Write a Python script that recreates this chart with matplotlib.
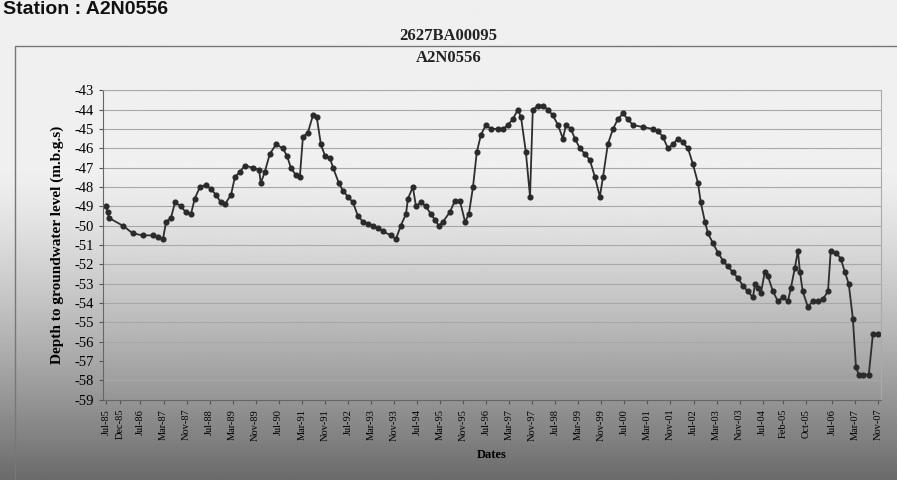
import numpy as np
import matplotlib.pyplot as plt
from matplotlib.patches import Rectangle

# water level record (decimal year, depth in m below ground surface)
years = [
    1985.50, 1985.55, 1985.59, 1985.99, 1986.28, 1986.57, 1986.86, 1987.00, 1987.15, 1987.24,
    1987.38, 1987.50, 1987.67, 1987.81, 1987.96, 1988.07, 1988.22, 1988.39, 1988.54, 1988.68,
    1988.83, 1988.94, 1989.12, 1989.23, 1989.38, 1989.52, 1989.75, 1989.93, 1989.98, 1990.10,
    1990.24, 1990.42, 1990.62, 1990.74, 1990.85, 1991.00, 1991.11, 1991.20, 1991.34, 1991.49,
    1991.60, 1991.72, 1991.84, 1991.98, 1992.07, 1992.24, 1992.36, 1992.50, 1992.65, 1992.79,
    1992.94, 1993.08, 1993.22, 1993.37, 1993.51, 1993.75, 1993.89, 1994.03, 1994.18, 1994.24,
    1994.38, 1994.47, 1994.61, 1994.76, 1994.90, 1995.02, 1995.13, 1995.25, 1995.45, 1995.60,
    1995.74, 1995.89, 1996.00, 1996.12, 1996.23, 1996.35, 1996.49, 1996.64, 1996.84, 1996.99,
    1997.13, 1997.27, 1997.42, 1997.51, 1997.65, 1997.77, 1997.85, 1998.00, 1998.14, 1998.29,
    1998.43, 1998.58, 1998.72, 1998.81, 1998.95, 1999.07, 1999.21, 1999.36, 1999.50, 1999.65,
    1999.79, 1999.88, 2000.02, 2000.17, 2000.31, 2000.46, 2000.60, 2000.75, 2001.04, 2001.32,
    2001.47, 2001.61, 2001.76, 2001.90, 2002.05, 2002.19, 2002.34, 2002.48, 2002.63, 2002.71,
    2002.83, 2002.92, 2003.06, 2003.21, 2003.35, 2003.49, 2003.64, 2003.78, 2003.93, 2004.07,
    2004.22, 2004.28, 2004.36, 2004.45, 2004.56, 2004.65, 2004.80, 2004.94, 2005.09, 2005.23,
    2005.32, 2005.43, 2005.52, 2005.58, 2005.66, 2005.81, 2005.95, 2006.10, 2006.24, 2006.39,
    2006.47, 2006.62, 2006.76, 2006.88, 2006.99, 2007.11, 2007.20, 2007.28, 2007.40, 2007.57,
    2007.69, 2007.83,
]
depth = [
    -49.0, -49.3, -49.6, -50.0, -50.4, -50.5, -50.5, -50.6, -50.7, -49.8,
    -49.6, -48.8, -49.0, -49.3, -49.4, -48.6, -48.0, -47.9, -48.1, -48.4,
    -48.8, -48.9, -48.4, -47.5, -47.2, -46.9, -47.0, -47.1, -47.8, -47.2,
    -46.3, -45.8, -46.0, -46.4, -47.0, -47.4, -47.5, -45.4, -45.2, -44.3,
    -44.4, -45.8, -46.4, -46.5, -47.0, -47.8, -48.2, -48.5, -48.8, -49.5,
    -49.8, -49.9, -50.0, -50.1, -50.3, -50.5, -50.7, -50.0, -49.4, -48.6,
    -48.0, -49.0, -48.8, -49.0, -49.4, -49.7, -50.0, -49.8, -49.3, -48.7,
    -48.7, -49.8, -49.4, -48.0, -46.2, -45.3, -44.8, -45.0, -45.0, -45.0,
    -44.8, -44.5, -44.0, -44.4, -46.2, -48.5, -44.0, -43.8, -43.8, -44.0,
    -44.3, -44.8, -45.5, -44.8, -45.0, -45.5, -46.0, -46.3, -46.6, -47.5,
    -48.5, -47.5, -45.8, -45.0, -44.5, -44.2, -44.5, -44.8, -44.9, -45.0,
    -45.1, -45.4, -46.0, -45.8, -45.5, -45.7, -46.0, -46.8, -47.8, -48.8,
    -49.8, -50.4, -50.9, -51.4, -51.8, -52.1, -52.4, -52.7, -53.1, -53.4,
    -53.7, -53.0, -53.2, -53.5, -52.4, -52.6, -53.4, -53.9, -53.7, -53.9,
    -53.2, -52.2, -51.3, -52.4, -53.4, -54.2, -53.9, -53.9, -53.8, -53.4,
    -51.3, -51.4, -51.7, -52.4, -53.0, -54.8, -57.3, -57.7, -57.7, -57.7,
    -55.6, -55.6,
]

date_labels = [
    "Jul-85", "Dec-85", "Jul-86", "Mar-87", "Nov-87", "Jul-88", "Mar-89", "Nov-89", "Jul-90",
    "Mar-91", "Nov-91", "Jul-92", "Mar-93", "Nov-93", "Jul-94", "Mar-95", "Nov-95", "Jul-96",
    "Mar-97", "Nov-97", "Jul-98", "Mar-99", "Nov-99", "Jul-00", "Mar-01", "Nov-01", "Jul-02",
    "Mar-03", "Nov-03", "Jul-04", "Feb-05", "Oct-05", "Jul-06", "Mar-07", "Nov-07",
]
y_ticks = list(range(-59, -42))

months = ["Jan", "Feb", "Mar", "Apr", "May", "Jun", "Jul", "Aug", "Sep", "Oct", "Nov", "Dec"]


def label_to_year(s):
    m, y = s.split("-")
    century = 1900 if int(y) > 50 else 2000
    return century + int(y) + months.index(m) / 12.0


tick_pos = [label_to_year(s) for s in date_labels]

serif = ["Liberation Serif", "DejaVu Serif"]

fig = plt.figure(figsize=(8.97, 4.8), dpi=100)

# photo-like background: light at top, darker towards the bottom
bg = fig.add_axes([0, 0, 1, 1], zorder=-10)
grad = np.linspace(0, 1, 256)
shade = 0.94 - 0.52 * np.clip((grad - 0.35) / 0.65, 0, 1) ** 1.3
bg.imshow(shade[:, None], aspect="auto", cmap="gray", vmin=0, vmax=1,
          extent=[0, 1, 0, 1], origin="upper")
bg.axis("off")

# chart area border
fig.patches.append(Rectangle((0.017, -0.01), 0.99, 0.915, transform=fig.transFigure,
                             fill=False, edgecolor="#777777", linewidth=1.0))

fig.text(0.003, 0.998, "Station : A2N0556", fontsize=14, fontweight="bold",
         family=["Liberation Sans", "DejaVu Sans"], ha="left", va="top", color="#111111")

ax = fig.add_axes([0.115, 0.167, 0.867, 0.645])
ax.set_facecolor("none")
ax.plot(years, depth, color="#2e2e2e", linewidth=1.3, marker="o", markersize=3.4,
        markerfacecolor="#2a2a2a", markeredgecolor="#2a2a2a")

ax.set_xlim(1985.42, 2007.92)
ax.set_ylim(-59, -43)
ax.set_yticks(y_ticks)
ax.set_yticklabels([str(v) for v in y_ticks], family=serif, fontsize=10.5)
ax.set_xticks(tick_pos)
ax.set_xticklabels(date_labels, rotation=90, family=serif, fontsize=7.5)
ax.tick_params(axis="both", length=3, color="#555555")

ax.grid(axis="y", color="#a8a8a8", linewidth=0.8)
ax.set_axisbelow(True)
for side in ["top", "right"]:
    ax.spines[side].set_color("#aaaaaa")
for side in ["left", "bottom"]:
    ax.spines[side].set_color("#666666")

ax.set_ylabel("Depth to groundwater level (m.b.g.s)", family=serif, fontsize=11,
              fontweight="bold", labelpad=8)
ax.set_xlabel("Dates", family=serif, fontsize=9, fontweight="bold", labelpad=6)

fig.text(0.5, 0.925, "2627BA00095", ha="center", va="center", family=serif,
         fontsize=12, fontweight="bold", color="#222222")
fig.text(0.5, 0.88, "A2N0556", ha="center", va="center", family=serif,
         fontsize=12, fontweight="bold", color="#222222")

fig.savefig("out.png", dpi=100)
